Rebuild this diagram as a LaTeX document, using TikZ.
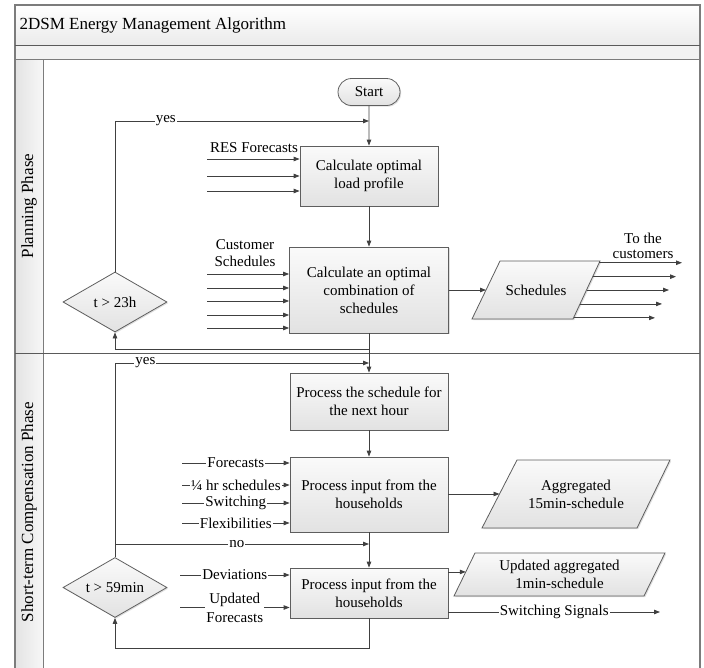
\documentclass[tikz,border=0pt]{standalone}
\usepackage{fontspec}
\setmainfont{Liberation Serif}
\usetikzlibrary{arrows.meta,shapes.geometric,shapes.misc,calc,shadows}
\definecolor{frameline}{HTML}{7C7C7C}
\definecolor{laneline}{HTML}{5A5A5A}
\definecolor{lineclr}{HTML}{404040}
\definecolor{boxline}{HTML}{5E5E5E}
\definecolor{boxtop}{HTML}{FAFAFA}
\definecolor{boxbot}{HTML}{E2E2E2}

\begin{document}
\begin{tikzpicture}[x=1pt,y=-1pt,
  every node/.style={font=\fontsize{15}{18}\selectfont, text=black},
  shade box/.style={draw=boxline, line width=0.8pt, top color=boxtop, bottom color=boxbot,
    drop shadow={shadow xshift=1.2pt, shadow yshift=-1.2pt, opacity=0.25}},
  proc/.style={rectangle, shade box, align=center, inner sep=2pt},
  term/.style={rounded rectangle, shade box, minimum width=66pt, minimum height=27pt, inner sep=2pt},
  dec/.style={diamond, shade box, aspect=1.73, minimum width=104pt, minimum height=60pt, inner sep=0pt},
  iotext/.style={align=center, inner sep=2pt},
  conn/.style={draw=lineclr, line width=0.8pt},
  arr/.style={conn, -{Triangle[length=6pt,width=4.5pt]}},
  lbl/.style={fill=white, inner sep=1pt},
  lanetitle/.style={font=\fontsize{17}{20}\selectfont}
]
\useasboundingbox (0,0) rectangle (704,667);

% pool frame, header bands and lane title column
\begin{scope}
  \clip (0,0) rectangle (704,667);
  \shade[top color=white, bottom color=black!8] (15,5) rectangle (700,45);
  \fill[black!5] (15,45) rectangle (700,59);
  \shade[left color=black!11, right color=black!3] (15,59) rectangle (43,690);
  \draw[frameline, line width=1.2pt] (15,690) -- (15,5) -- (700,5) -- (700,690);
  \draw[laneline, line width=1pt] (15,45) -- (700,45);
  \draw[frameline, line width=1pt] (15,59) -- (700,59);
  \draw[frameline, line width=1pt] (43,59) -- (43,690);
  \draw[laneline, line width=1pt] (15,353) -- (700,353);
\end{scope}

\node[anchor=west, lanetitle] (title) at (16,25) {2DSM Energy Management Algorithm};
\node[rotate=90, lanetitle] (lane1) at (29,206) {Planning Phase};
\node[rotate=90, lanetitle] (lane2) at (29,512) {Short-term Compensation Phase};

% ---------- planning phase ----------
\node[term] (start) at (369,92) {Start};
\node[proc, minimum width=138pt, minimum height=60pt] (b1) at (369,176) {Calculate optimal\\load profile};
\node[proc, minimum width=159pt, minimum height=86pt] (b2) at (369,290) {Calculate an optimal\\combination of\\schedules};
\node[dec] (d1) at (115,302) {t > 23h};

% data parallelogram: Schedules
\coordinate (schedTL) at (500,261); \coordinate (schedTR) at (600,261);
\coordinate (schedBR) at (573,319); \coordinate (schedBL) at (472,319);
\path[shade box] (schedTL) -- (schedTR) -- (schedBR) -- (schedBL) -- cycle;
\node[iotext] (sched) at (536,290) {Schedules};
\coordinate (schedin) at ($(schedTL)!0.5!(schedBL)$);

\coordinate (yes1) at (369,121);
\draw[arr] (start) -- (b1);
\draw[arr] (b1) -- (b2);
\draw[arr] (d1.north) |- (yes1) node[lbl, pos=0.6] {yes};
\draw[arr] (b2.south) -- ++(0,16) -| (d1.south);
\draw[arr] (b2.east |- schedin) -- (schedin);

\node (resl) at (254,148) {RES Forecasts};
\foreach \y [count=\i] in {159,176,191} {
  \coordinate (r\i) at (207,\y);
  \draw[arr] (r\i) -- (r\i -| b1.west);
}
\node[align=center, font=\fontsize{15}{17}\selectfont] (custl) at (245,253.5) {Customer\\Schedules};
\foreach \y [count=\i] in {274,288,301,315,328} {
  \coordinate (c\i) at (207,\y);
  \draw[arr] (c\i) -- (c\i -| b2.west);
}
\node[align=center, font=\fontsize{15}{15}\selectfont] (custout) at (643,246) {To the\\customers};
\foreach \f/\ex [count=\i] in {0.03/682,0.27/676,0.5/669,0.74/662,0.98/655} {
  \coordinate (s\i) at ($(schedTR)!\f!(schedBR)$);
  \coordinate (t\i) at (s\i -| \ex,0);
  \draw[arr] (s\i) -- (t\i);
}

% ---------- short-term compensation phase ----------
\node[proc, minimum width=158pt, minimum height=57pt] (b3) at (369,401.5) {Process the schedule for\\the next hour};
\node[proc, minimum width=158pt, minimum height=75pt] (b4) at (369,494.5) {Process input from the\\households};
\node[dec] (d2) at (115,587.5) {t > 59min};
\node[proc, minimum width=158pt, minimum height=50pt] (b5) at (369,593) {Process input from the\\households};

% data parallelogram: aggregated 15 min schedule
\coordinate (aggTL) at (517,460); \coordinate (aggTR) at (670,460);
\coordinate (aggBR) at (637,528); \coordinate (aggBL) at (482,528);
\path[shade box] (aggTL) -- (aggTR) -- (aggBR) -- (aggBL) -- cycle;
\node[iotext] (agg) at (576,494) {Aggregated\\15min-schedule};
\coordinate (aggin) at ($(aggTL)!0.5!(aggBL)$);

% data parallelogram: updated 1 min schedule
\coordinate (updTL) at (475,553); \coordinate (updTR) at (665,553);
\coordinate (updBR) at (644,596); \coordinate (updBL) at (454,596);
\path[shade box] (updTL) -- (updTR) -- (updBR) -- (updBL) -- cycle;
\node[iotext] (upd) at (559.5,574.5) {Updated aggregated\\1min-schedule};
\coordinate (updin) at ($(updTL)!0.44!(updBL)$);

\coordinate (yes2) at (369,363);
\coordinate (nos) at (115,544);
\coordinate (noe) at (369,544);
\coordinate (sw) at (660,612);

\draw[arr] (b2) -- (b3);
\draw[arr] (d2.north) |- (yes2) node[lbl, pos=0.56] {yes};
\draw[arr] (b3) -- (b4);
\draw[arr] (b4.east |- aggin) -- (aggin);
\draw[arr] (b4) -- (b5);
\draw[arr] (nos) -- (noe) node[lbl, pos=0.48] {no};
\draw[arr] (b5.south) -- ++(0,30) -| (d2.south);
\draw[arr] (b5.east |- updin) -- (updin);
\draw[arr] (b5.east |- sw) -- (sw) node[lbl, midway] {Switching Signals};

\foreach \y/\t [count=\i] in {463/Forecasts,485/{¼ hr schedules},503/Switching,523/Flexibilities} {
  \coordinate (h\i) at (182,\y);
  \draw[arr] (h\i) -- (h\i -| b4.west) node[lbl, midway] {\t};
}
\coordinate (dv) at (180,575);
\draw[arr] (dv) -- (dv -| b5.west) node[lbl, midway] {Deviations};
\coordinate (uf) at (180,607.5);
\draw[arr] (uf) -- (uf -| b5.west) node[lbl, midway, align=center, font=\fontsize{15}{19}\selectfont] {Updated\\Forecasts};
\end{tikzpicture}
\end{document}
